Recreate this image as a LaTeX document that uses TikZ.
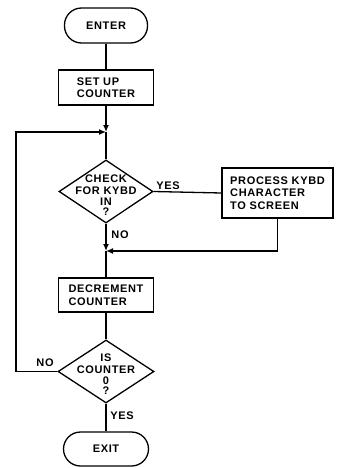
\documentclass[tikz,border=0pt]{standalone}
\usepackage{fontspec}
\setmainfont{Liberation Sans}[LetterSpace=6]
\usetikzlibrary{shapes.geometric,arrows.meta}
\begin{document}
\begin{tikzpicture}[x=1pt,y=-1pt,
  every node/.style={font=\fontsize{11}{12.5}\selectfont\bfseries},
  flow/.style={line width=1.3pt},
  terminal/.style={draw,line width=1.3pt,rectangle,rounded corners=17pt,minimum height=35pt,inner sep=0pt},
  procbox/.style={draw,line width=1.3pt,rectangle,align=left,inner sep=0pt},
  decision/.style={draw,line width=1.3pt,diamond,inner sep=0pt},
  dtext/.style={align=center,inner sep=0pt},
  tip/.style={-{Latex[length=7pt,width=6pt]}},
  lbl/.style={inner sep=0pt}]
\useasboundingbox (0,0) rectangle (341,468);

% boxes
\node[terminal,minimum width=83pt] (enter) at (106,25.5) {ENTER};
\node[procbox,minimum width=95pt,minimum height=35pt] (setup) at (106,87.5) {SET UP\\COUNTER};
\node[decision,minimum width=94pt,minimum height=63pt] (check) at (106,191.5) {};
\node[dtext] (checktxt) at (106,195) {CHECK\\FOR KYBD\\[-2pt]IN\\[-2pt]?};
\node[procbox,minimum width=111pt,minimum height=50pt] (proc) at (277.5,193) {PROCESS KYBD\\CHARACTER\\TO SCREEN};
\node[procbox,minimum width=95pt,minimum height=34pt] (dec) at (106,295) {DECREMENT\\COUNTER};
\node[decision,minimum width=96pt,minimum height=63pt] (isz) at (106,371.5) {};
\node[dtext] (isztxt) at (106,374) {IS\\COUNTER\\[-2pt]0\\[-2pt]?};
\node[terminal,minimum width=85pt,minimum height=34pt] (exit) at (106,449) {EXIT};

% junction points and loop corner
\coordinate (j1) at (106,132);
\coordinate (j2) at (106,251);
\coordinate (loopbot) at (16,371.5);
\coordinate (looptop) at (16,132);

% connectors
\draw[flow] (enter) -- (setup);
\draw[flow,tip] (setup) -- (j1);
\draw[flow] (j1) -- (check.north);
\draw[flow] (check.east) -- (proc.west);
\draw[flow,tip] (check.south) -- (j2);
\draw[flow,tip] (proc.south) |- (j2);
\draw[flow] (j2) -- (dec);
\draw[flow] (dec) -- (isz.north);
\draw[flow,tip] (isz.west) -- (loopbot) -- (looptop) -- (j1);
\draw[flow] (isz.south) -- (exit);

% branch labels
\node[lbl] (yes1) at (168,186) {YES};
\node[lbl] (no1) at (120,235) {NO};
\node[lbl] (no2) at (45,363) {NO};
\node[lbl] (yes2) at (122,416) {YES};
\end{tikzpicture}
\end{document}
